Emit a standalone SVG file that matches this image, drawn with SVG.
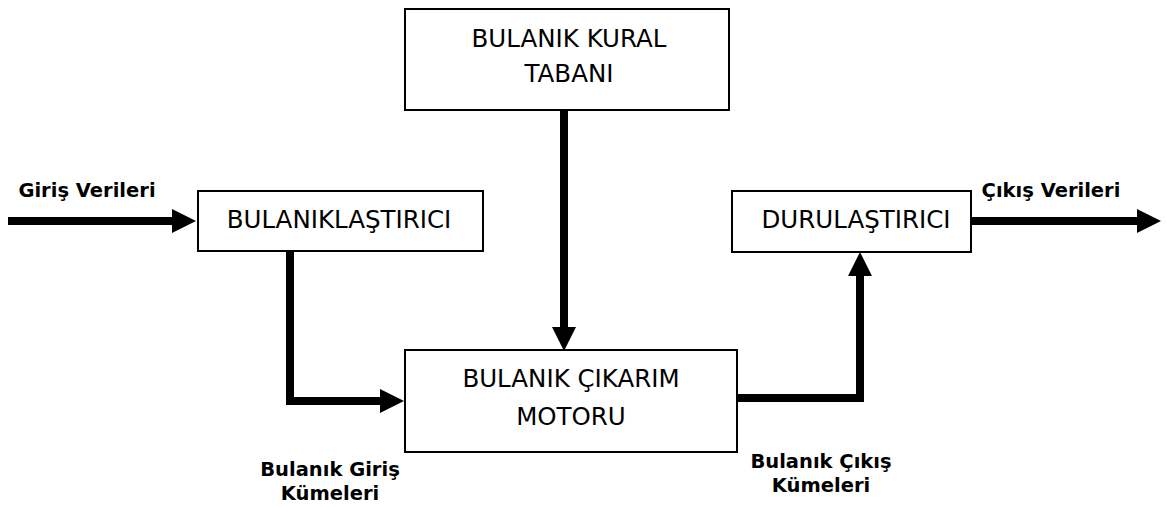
<svg xmlns="http://www.w3.org/2000/svg" width="1167" height="507" viewBox="0 0 1167 507">
<style>
.box{fill:#fff;stroke:#000;stroke-width:2}
.t{font-family:"DejaVu Sans",Verdana,sans-serif;font-size:24.5px;fill:#000;text-anchor:middle}
.b{font-family:"DejaVu Sans",Verdana,sans-serif;font-size:19.5px;font-weight:bold;fill:#000;text-anchor:middle}
.c{fill:none;stroke:#000;stroke-width:8}
</style>
<defs>
<marker id="ah" markerUnits="userSpaceOnUse" markerWidth="24" markerHeight="24" refX="0" refY="12" orient="auto" viewBox="0 0 24 24">
<path d="M0,0 L24,12 L0,24 Z" fill="#000"/>
</marker>
</defs>
<g id="connectors">
<path class="c" d="M8,221 H172" marker-end="url(#ah)"/>
<path class="c" d="M290,251 V401 H380" marker-end="url(#ah)"/>
<path class="c" d="M564,110 V327" marker-end="url(#ah)"/>
<path class="c" d="M737,398 H860 V276" marker-end="url(#ah)"/>
<path class="c" d="M971,221 H1137" marker-end="url(#ah)"/>
</g>
<g id="rule-base">
<rect class="box" x="405" y="9" width="324" height="101"/>
<text class="t" x="569" y="47">BULANIK KURAL</text>
<text class="t" x="569" y="82">TABANI</text>
</g>
<g id="fuzzifier">
<rect class="box" x="198" y="191" width="285" height="60"/>
<text class="t" x="339" y="228">BULANIKLAŞTIRICI</text>
</g>
<g id="inference">
<rect class="box" x="405" y="350" width="332" height="102"/>
<text class="t" x="571" y="387">BULANIK ÇIKARIM</text>
<text class="t" x="571" y="425">MOTORU</text>
</g>
<g id="defuzzifier">
<rect class="box" x="732" y="191" width="239" height="61"/>
<text class="t" x="856" y="228">DURULAŞTIRICI</text>
</g>
<g id="labels">
<text class="b" x="87" y="197">Giriş Verileri</text>
<text class="b" x="1051" y="197">Çıkış Verileri</text>
<text class="b" x="330" y="476">Bulanık Giriş</text>
<text class="b" x="330" y="500">Kümeleri</text>
<text class="b" x="821" y="468">Bulanık Çıkış</text>
<text class="b" x="821" y="492">Kümeleri</text>
</g>
</svg>
